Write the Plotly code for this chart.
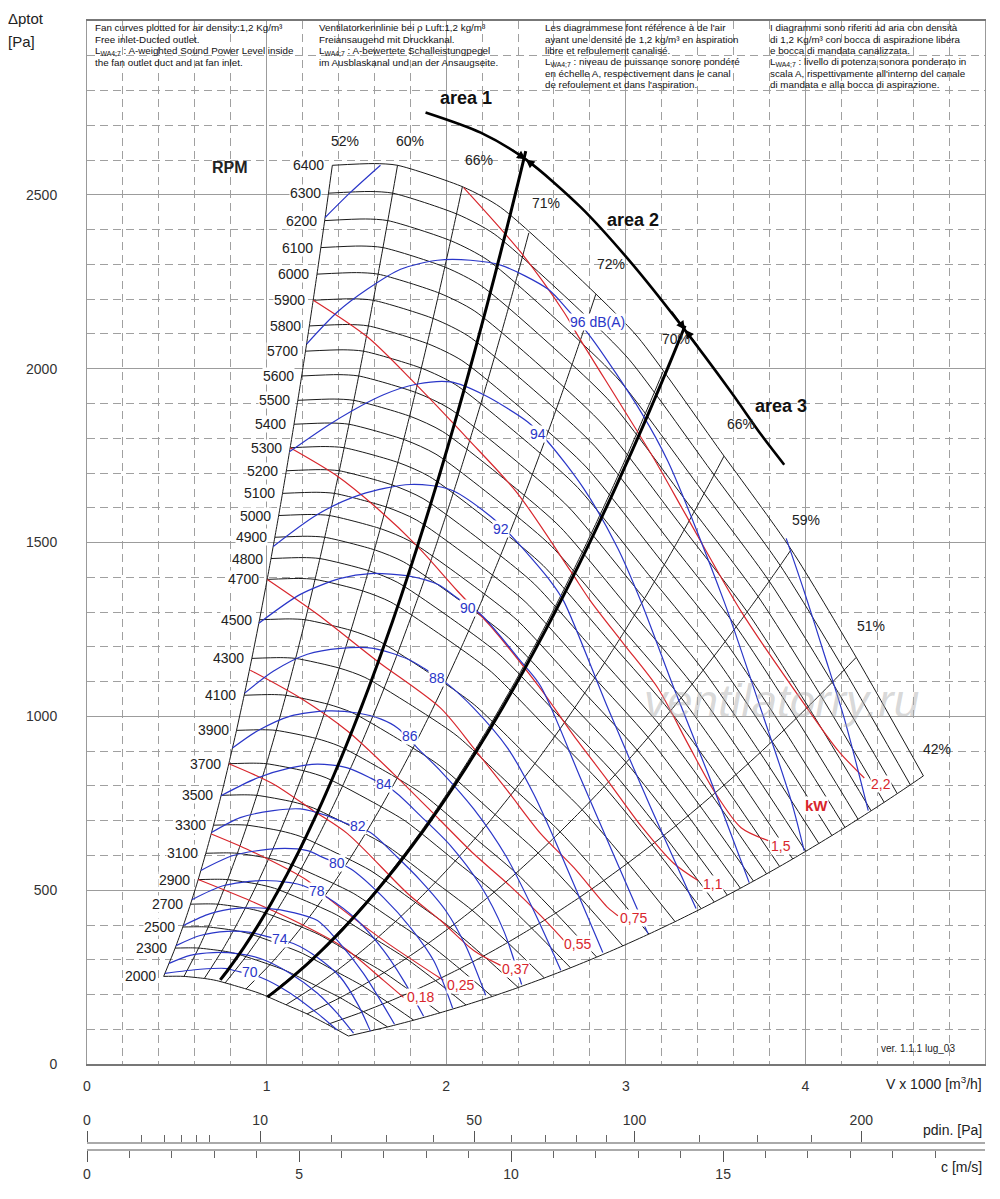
import numpy as np
import plotly.graph_objects as go

FONT = "Liberation Sans, Arial, sans-serif"
INK = "#1a1a1a"
BLUE = "#2a36c8"
RED = "#d8262c"

# 6400 rpm fan curve (V x 1000 m3/h, dp Pa)
base_v = [1.366, 1.601, 1.729, 2.097, 2.303, 2.805, 3.067, 3.530, 3.921, 4.283, 4.657]
base_p = [2585, 2590, 2585, 2522, 2464, 2229, 2091, 1761, 1480, 1170, 829]

rpm = [6400, 6300, 6200, 6100, 6000, 5900, 5800, 5700, 5600, 5500, 5400, 5300,
       5200, 5100, 5000, 4900, 4800, 4700, 4500, 4300, 4100, 3900, 3700, 3500,
       3300, 3100, 2900, 2700, 2500, 2300, 2000]

# efficiency lines: where they leave the 6400 rpm curve
eff_text = ["52%", "60%", "66%", "71%", "72%", "70%", "66%", "59%", "51%", "42%"]
eff_v_top = [1.366, 1.729, 2.09, 2.46, 2.833, 3.207, 3.547, 3.921, 4.283, 4.657]
eff_lab_v = [1.439, 1.801, 2.181, 2.554, 2.917, 3.279, 3.642, 4.004, 4.367, 4.730]
eff_lab_p = [2656, 2656, 2599, 2478, 2301, 2085, 1842, 1566, 1259, 906]

# shaft power lines (kW)
kw_text = ["2,2", "1,5", "1,1", "0,75", "0,55", "0,37", "0,25", "0,18"]
kw_v = [
    [2.097, 2.415, 2.655, 2.738, 3.157, 3.324, 3.642, 3.993, 4.183, 4.328],
    [1.260, 1.562, 1.818, 2.119, 2.398, 2.694, 2.805, 2.989, 3.179, 3.346, 3.491, 3.642, 3.793],
    [1.131, 1.383, 1.617, 1.840, 2.064, 2.248, 2.526, 2.711, 2.900, 3.084, 3.268, 3.402],
    [1.004, 1.283, 1.617, 1.969, 2.153, 2.342, 2.526, 2.711, 2.900, 2.956],
    [0.909, 1.188, 1.450, 1.707, 1.969, 2.153, 2.342, 2.526, 2.655],
    [0.790, 1.037, 1.260, 1.450, 1.785, 1.969, 2.153, 2.303],
    [0.692, 0.909, 1.227, 1.339, 1.651, 1.985],
    [0.619, 0.909, 1.188, 1.428, 1.651, 1.762],
]
kw_p = [
    [2521, 2335, 2163, 2091, 1741, 1589, 1302, 1036, 901, 823],
    [2197, 2091, 1962, 1799, 1641, 1417, 1331, 1208, 1081, 921, 786, 680, 643],
    [1773, 1695, 1598, 1489, 1360, 1259, 1079, 944, 815, 686, 577, 528],
    [1394, 1294, 1159, 1024, 909, 786, 663, 565, 450, 427],
    [1133, 1053, 958, 835, 700, 605, 519, 427, 356],
    [864, 806, 729, 663, 491, 413, 327, 284],
    [662, 614, 528, 479, 356, 241],
    [531, 470, 404, 336, 241, 192],
]
kw_lab_v = [4.423, 3.865, 3.486, 3.045, 2.733, 2.387, 2.080, 1.857]
kw_lab_p = [806, 628, 519, 419, 347, 275, 227, 192]

# sound power lines dB(A): 98, 96, 94 ... 70
db_v = [
    [1.326, 1.467, 1.634, None, 3.893, 3.993, 4.105, 4.216, 4.350],
    [1.223, 1.394, 1.562, 1.746, 1.952, 2.136, 2.303, 2.566, 2.677, 2.805, 3.084, 3.235, 3.547, 3.737, 3.921, 3.993],
    [1.127, 1.372, 1.651, 1.840, 2.025, 2.209, 2.454, 2.566, 2.766, 2.956, 3.084, 3.268, 3.458, 3.687],
    [1.037, 1.283, 1.523, 1.801, 2.025, 2.248, 2.376, 2.582, 2.655, 2.900, 3.140, 3.391],
    [0.957, 1.188, 1.411, 1.578, 1.801, 1.952, 2.064, 2.192, 2.415, 2.526, 2.750, 2.934, 3.123],
    [0.878, 1.037, 1.227, 1.411, 1.595, 1.785, 1.874, 2.008, 2.153, 2.342, 2.487, 2.599, 2.872],
    [0.810, 0.948, 1.132, 1.339, 1.506, 1.634, 1.729, 1.840, 1.969, 2.153, 2.331, 2.487, 2.638],
    [0.746, 0.948, 1.132, 1.283, 1.450, 1.578, 1.707, 1.857, 2.025, 2.192, 2.320, 2.420],
    [0.693, 0.853, 1.037, 1.188, 1.339, 1.450, 1.578, 1.718, 1.857, 1.997, 2.108, 2.220],
    [0.634, 0.814, 1.060, 1.227, 1.316, 1.467, 1.651, 1.801, 1.930, 2.036],
    [0.584, 0.758, 0.965, 1.132, 1.205, 1.339, 1.506, 1.651, 1.762, 1.874],
    [0.537, 0.686, 0.837, 1.004, 1.149, 1.283, 1.394, 1.539, 1.712],
    [0.496, 0.630, 0.781, 0.909, 1.004, 1.149, 1.283, 1.411, 1.511, 1.578],
    [0.457, 0.574, 0.703, 0.837, 0.965, 1.132, 1.283, 1.394, 1.484],
    [0.434, 0.630, 0.781, 0.814, 0.965, 1.132, 1.283, 1.394],
]
db_p = [
    [2435, 2507, 2585, None, 1512, 1360, 1179, 995, 729],
    [2071, 2163, 2229, 2286, 2312, 2312, 2298, 2229, 2169, 2091, 1876, 1733, 1331, 1044, 757, 614],
    [1761, 1847, 1925, 1956, 1962, 1925, 1847, 1790, 1655, 1483, 1331, 1081, 835, 522],
    [1489, 1581, 1638, 1667, 1652, 1575, 1512, 1388, 1331, 1024, 737, 448],
    [1268, 1351, 1397, 1411, 1403, 1380, 1340, 1294, 1159, 1087, 820, 600, 376],
    [1067, 1130, 1179, 1196, 1196, 1165, 1139, 1093, 1024, 909, 777, 651, 321],
    [909, 958, 1001, 1016, 1010, 993, 967, 909, 843, 734, 600, 442, 270],
    [772, 823, 852, 863, 852, 823, 786, 714, 628, 513, 384, 229],
    [666, 709, 729, 734, 714, 691, 666, 600, 528, 442, 341, 198],
    [557, 600, 620, 614, 594, 562, 479, 393, 298, 161],
    [473, 513, 528, 522, 513, 479, 413, 327, 241, 138],
    [399, 433, 448, 448, 436, 413, 356, 261, 115],
    [341, 370, 382, 379, 367, 347, 307, 250, 169, 95],
    [290, 313, 321, 318, 304, 261, 204, 146, 89],
    [261, 273, 275, 270, 250, 204, 146, 98],
]
db_text = ["96 dB(A)", "94", "92", "90", "88", "86", "84", "82", "80", "78", "74", "70"]
db_lab_v = [2.844, 2.510, 2.303, 2.119, 1.946, 1.796, 1.656, 1.511, 1.394, 1.283, 1.076, 0.909]
db_lab_p = [2134, 1813, 1540, 1311, 1110, 944, 806, 686, 579, 499, 361, 264]

# operating area boundaries
area_v = [1.885, 2.192, 2.443, 2.750, 3.028, 3.307, 3.586, 3.754, 3.882]
area_p = [2737, 2679, 2602, 2464, 2306, 2126, 1933, 1810, 1724]
sys_k = [440, 191.5]          # dp = k * V^2
sys_v0 = [0.742, 1.004]
sys_v1 = [2.443, 3.33]
# arrow heads on the area curve: tip and the two tails along the curve
arrow_tip = [(2.443, 2602), (3.33, 2112)]
arrow_tails = [[(2.36, 2632), (2.53, 2566)], [(3.25, 2168), (3.41, 2058)]]

# bottom scales
c_per_v = 4.235               # m/s per 1000 m3/h
rho = 1.2
pdin_major = [0, 10, 50, 100, 200]
pdin_minor = [1, 2, 3, 4, 5, 20, 30, 40, 60, 70, 80, 90, 125, 150, 175]
c_major = [0, 5, 10, 15]
c_minor = [1, 2, 3, 4, 6, 7, 8, 9, 11, 12, 13, 14, 16, 17, 18, 19, 20]

notes = [
    (0.039, ["Fan curves plotted for air density:1,2 Kg/m³",
             "Free inlet-Ducted outlet.",
             "L<sub>WA4;7</sub> : A-weighted Sound Power Level inside",
             "the fan outlet duct and at fan inlet."]),
    (1.288, ["Ventilatorkennlinie bei ρ Luft:1,2 kg/m³",
             "Freiansaugend mit Druckkanal.",
             "L<sub>WA4;7</sub> : A-bewertete Schalleistungpegel",
             "im Ausblaskanal und an der Ansaugseite."]),
    (2.543, ["Les diagrammese font référence à de l'air",
             "ayant une densité de 1,2 kg/m³ en aspiration",
             "libre et refoulement canalisé.",
             "L<sub>WA4;7</sub> : niveau de puissance sonore pondéré",
             "en échelle A, respectivement dans le canal",
             "de refoulement et dans l'aspiration."]),
    (3.798, ["I diagrammi sono riferiti ad aria con densità",
             "di 1,2 Kg/m³ con bocca di aspirazione libera",
             "e bocca di mandata canalizzata.",
             "L<sub>WA4;7</sub> : livello di potenza sonora ponderato in",
             "scala A, rispettivamente all'interno del canale",
             "di mandata e alla bocca di aspirazione."]),
]

fig = go.Figure()


def line(x, y, color=INK, width=1.0, smooth=0.8):
    fig.add_trace(go.Scatter(
        x=x, y=y, mode="lines", hoverinfo="skip", showlegend=False,
        connectgaps=False,
        line=dict(color=color, width=width, shape="spline", smoothing=smooth),
    ))


def label(x, y, text, color="#222", size=14, bg=None, xanchor="center",
          bold=False, xshift=0, italic=False, paper=False):
    if bold:
        text = f"<b>{text}</b>"
    if italic:
        text = f"<i>{text}</i>"
    ref = "paper" if paper else None
    fig.add_annotation(
        x=x, y=y, text=text, showarrow=False, xanchor=xanchor, yanchor="middle",
        xshift=xshift, bgcolor=bg, borderpad=0,
        xref=ref or "x", yref=ref or "y",
        font=dict(family=FONT, size=size, color=color),
    )


ratios = [n / rpm[0] for n in rpm]

# fan curves (fan laws)
for r in ratios:
    line([v * r for v in base_v], [p * r * r for p in base_p], width=1.0, smooth=0.7)

# efficiency lines
for vt in eff_v_top:
    pt = float(np.interp(vt, base_v, base_p))
    line([vt * r for r in ratios], [pt * r * r for r in ratios], width=1.0, smooth=0.6)

# power lines
for vs, ps in zip(kw_v, kw_p):
    line(vs, ps, color=RED, width=1.2)

# sound lines
for vs, ps in zip(db_v, db_p):
    line(vs, ps, color=BLUE, width=1.2)

# area boundaries
for k, v0, v1 in zip(sys_k, sys_v0, sys_v1):
    vv = np.linspace(v0, v1, 40)
    line(vv, k * vv ** 2, color="#000", width=3.0)
line(area_v, area_p, color="#000", width=2.6)

for tip, tails in zip(arrow_tip, arrow_tails):
    for tx, ty in tails:
        fig.add_annotation(x=tip[0], y=tip[1], ax=tx, ay=ty, axref="x", ayref="y",
                           showarrow=True, arrowhead=2, arrowsize=1.1,
                           arrowwidth=1.6, arrowcolor="#000", text="")

# hidden traces so the extra scales are drawn
for ax in ["x2", "x3"]:
    fig.add_trace(go.Scatter(x=[0, 5], y=[None, None], xaxis=ax, yaxis="y",
                             mode="lines", hoverinfo="skip", showlegend=False))

# labels
for n, r in zip(rpm, ratios):
    label(base_v[0] * r, base_p[0] * r * r, str(n), size=14, bg="white",
          xanchor="right", xshift=-7)
for t, x, y in zip(eff_text, eff_lab_v, eff_lab_p):
    label(x, y, t, size=14)
for t, x, y in zip(db_text, db_lab_v, db_lab_p):
    label(x, y, t, color=BLUE, size=14, bg="white")
for t, x, y in zip(kw_text, kw_lab_v, kw_lab_p):
    label(x, y, t, color=RED, size=14, bg="white")
label(4.060, 743, "kW", color=RED, size=15, bold=True, bg="white")
label(0.798, 2579, "RPM", color="#222", size=16, bold=True)
label(2.108, 2780, "area 1", color="#111", size=18, bold=True)
label(3.040, 2427, "area 2", color="#111", size=18, bold=True)
label(3.865, 1893, "area 3", color="#111", size=18, bold=True)
label(3.865, 1044, "ventilatorry.ru", color="rgba(170,170,170,0.45)", size=46, italic=True)
label(4.629, 46, "ver. 1.1.1 lug_03", size=10)

for x0, rows in notes:
    for i, t in enumerate(rows):
        label(x0, 2980 - 32.7 * i, t, color="#111", size=9.8, xanchor="left")

# texts outside the plotting frame (paper units)
label(-0.089, 1.002, "Δptot", size=15, xanchor="left", paper=True)
label(-0.089, 0.982, "[Pa]", size=15, xanchor="left", paper=True)
label(1.0, 0.0667, "V x 1000 [m<sup>3</sup>/h]", size=14, xanchor="right", xshift=-2, paper=True)
label(1.0, 0.0254, "pdin. [Pa]", size=14, xanchor="right", xshift=-2, paper=True)
label(1.0, -0.007, "c [m/s]", size=14, xanchor="right", xshift=-2, paper=True)


def v_of_c(c):
    return c / c_per_v


def v_of_pdin(p):
    return np.sqrt(2 * p / rho) / c_per_v


grid_solid = "#9c9c9c"
grid_dash = "#a0a0a0"

fig.update_layout(
    width=992, height=1191,
    margin=dict(l=79, r=15, t=11, b=40),
    plot_bgcolor="white", paper_bgcolor="white",
    showlegend=False, hovermode=False,
    font=dict(family=FONT, size=14, color="#222"),
    xaxis=dict(
        range=[0, 5], tickvals=[0, 1, 2, 3, 4],
        showgrid=True, gridcolor=grid_solid, gridwidth=1, zeroline=False,
        minor=dict(dtick=0.2, tick0=0, showgrid=True, gridcolor=grid_dash,
                   griddash="8px,5px", gridwidth=1),
        showline=True, linecolor="#777", linewidth=1.5, mirror=True,
        ticks="", ticklabelstandoff=8, tickfont=dict(size=14, color="#333"),
    ),
    yaxis=dict(
        range=[0, 3000], domain=[95 / 1140, 1],
        tickvals=[0, 500, 1000, 1500, 2000, 2500],
        showgrid=True, gridcolor=grid_solid, gridwidth=1, zeroline=False,
        minor=dict(dtick=100, tick0=0, showgrid=True, gridcolor=grid_dash,
                   griddash="8px,5px", gridwidth=1),
        showline=True, linecolor="#999", linewidth=1, mirror=True,
        ticks="", ticklabelstandoff=26, tickfont=dict(size=14, color="#333"),
    ),
    xaxis2=dict(
        overlaying="x", anchor="free", position=16 / 1140, side="top", range=[0, 5],
        tickvals=[v_of_pdin(p) for p in pdin_major], ticktext=[str(p) for p in pdin_major],
        ticks="outside", ticklen=11, tickwidth=1, tickcolor="#555",
        minor=dict(tickvals=[v_of_pdin(p) for p in pdin_minor], ticks="outside",
                   ticklen=7, tickcolor="#666", showgrid=False),
        showline=True, linecolor="#aaa", linewidth=2, showgrid=False, zeroline=False,
        tickfont=dict(size=14, color="#333"),
    ),
    xaxis3=dict(
        overlaying="x", anchor="free", position=9 / 1140, side="bottom", range=[0, 5],
        tickvals=[v_of_c(c) for c in c_major], ticktext=[str(c) for c in c_major],
        ticks="outside", ticklen=11, tickwidth=1, tickcolor="#555",
        minor=dict(tickvals=[v_of_c(c) for c in c_minor], ticks="outside",
                   ticklen=7, tickcolor="#666", showgrid=False),
        showline=True, linecolor="#aaa", linewidth=2, showgrid=False, zeroline=False,
        tickfont=dict(size=14, color="#333"),
    ),
)

fig.write_html("out.html")
